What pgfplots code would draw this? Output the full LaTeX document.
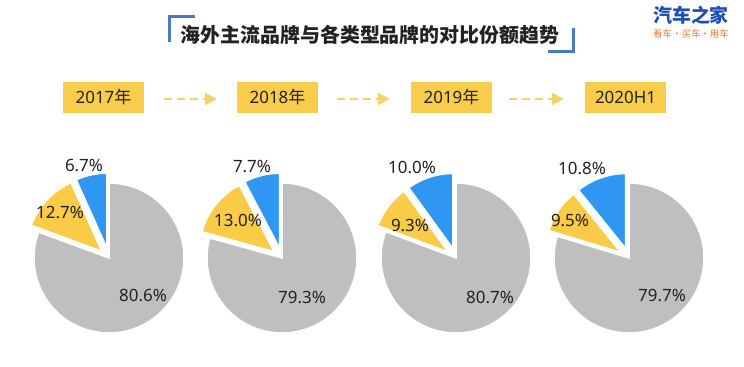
\documentclass[border=0pt]{standalone}
\usepackage{pgfplots}
\pgfplotsset{compat=1.18}
\usepackage{fontspec}
\setmainfont{Noto Sans}
\newfontfamily\cjk{Noto Sans CJK SC}
\usetikzlibrary{arrows.meta}
\definecolor{pgray}{HTML}{BFBFBF}
\definecolor{pyel}{HTML}{FACB47}
\definecolor{pblue}{HTML}{2F97F2}
\definecolor{boxyel}{HTML}{F9CD4B}
\definecolor{arryel}{HTML}{F3D266}
\definecolor{ttlblue}{HTML}{4A78C8}
\definecolor{logoblue}{HTML}{1D4FB4}
\definecolor{logoor}{HTML}{EE7B30}
\definecolor{txt}{HTML}{222222}

% one pie slice: cx, cy, from-angle, to-angle, colour, explode distance
\newcommand\myslice[6]{%
  \pgfmathsetmacro\sMid{(#3+#4)/2}%
  \pgfmathsetmacro\sOx{#1+#6*cos(\sMid)}%
  \pgfmathsetmacro\sOy{#2+#6*sin(\sMid)}%
  \edef\sDo{\noexpand\addplot[fill=#5, draw=white, line width=1.5bp, domain=#3:#4, samples=90, variable=\noexpand\t] ({\sOx+75*cos(\noexpand\t)},{\sOy+75*sin(\noexpand\t)}) -- (axis cs:\sOx,\sOy) -- cycle;}%
  \sDo
}
% pie: centre x, grey share, yellow share, blue share (percent)
\newcommand\mypie[4]{%
  \pgfmathsetmacro\aA{90-3.6*#2}%
  \pgfmathsetmacro\aB{90-3.6*(#2+#3)}%
  \myslice{#1}{109}{\aA}{90}{pgray}{0}%
  \myslice{#1}{109}{\aB}{\aA}{pyel}{10}%
  \myslice{#1}{109}{-270}{\aB}{pblue}{10}%
}

\begin{document}
\begin{tikzpicture}
\path[use as bounding box] (0,0) rectangle (744bp,367bp);
\begin{axis}[at={(0,0)}, anchor=south west, scale only axis,
  width=744bp, height=367bp, xmin=0, xmax=744, ymin=0, ymax=367,
  hide axis, clip=false]
% data: grey (overseas mainstream), yellow, blue
\mypie{109}{80.6}{12.7}{6.7}
\mypie{282}{79.3}{13.0}{7.7}
\mypie{456}{80.7}{9.3}{10.0}
\mypie{629}{79.7}{9.5}{10.8}

\tikzset{lbl/.style={font=\fontsize{17}{17}\selectfont, text=txt, inner sep=0}}
\node[lbl] at (axis cs:84,202) {6.7\%};
\node[lbl] at (axis cs:60,155) {12.7\%};
\node[lbl] at (axis cs:143,72) {80.6\%};
\node[lbl] at (axis cs:252,201) {7.7\%};
\node[lbl] at (axis cs:238,147) {13.0\%};
\node[lbl] at (axis cs:302,70) {79.3\%};
\node[lbl] at (axis cs:412,200) {10.0\%};
\node[lbl] at (axis cs:410,142) {9.3\%};
\node[lbl] at (axis cs:490,70) {80.7\%};
\node[lbl] at (axis cs:582,199) {10.8\%};
\node[lbl] at (axis cs:570,147) {9.5\%};
\node[lbl] at (axis cs:662,72) {79.7\%};

% year boxes
\tikzset{yb/.style={fill=boxyel, minimum width=81bp, minimum height=31bp, inner sep=0, font=\fontsize{17}{17}\selectfont, text=txt}}
\node[yb] at (axis cs:103.5,269.5) {2017{\cjk 年}};
\node[yb] at (axis cs:277.5,269.5) {2018{\cjk 年}};
\node[yb] at (axis cs:451.5,269.5) {2019{\cjk 年}};
\node[yb] at (axis cs:625.5,269.5) {2020H1};

\tikzset{ar/.style={arryel, line width=2bp, dash pattern=on 8bp off 5bp, -{Triangle[length=12bp,width=12bp]}}}
\draw[ar] (axis cs:164,268) -- (axis cs:217,268);
\draw[ar] (axis cs:337,268) -- (axis cs:390,268);
\draw[ar] (axis cs:509,268) -- (axis cs:564,268);

% title
\node[font=\cjk\bfseries\fontsize{20}{20}\selectfont, text=txt] at (axis cs:370,332) {海外主流品牌与各类型品牌的对比份额趋势};
\draw[ttlblue, line width=3bp] (axis cs:169,325) -- (axis cs:169,350) -- (axis cs:195,350);
\draw[ttlblue, line width=3bp] (axis cs:548,315) -- (axis cs:573,315) -- (axis cs:573,339);

% logo
\node[font=\cjk\bfseries\fontsize{19}{19}\selectfont, text=logoblue] at (axis cs:691,351.5) {汽车之家};
\node[font=\cjk\fontsize{9.5}{9.5}\selectfont, text=logoor] at (axis cs:691,333) {看车·买车·用车};
\end{axis}
\end{tikzpicture}
\end{document}
